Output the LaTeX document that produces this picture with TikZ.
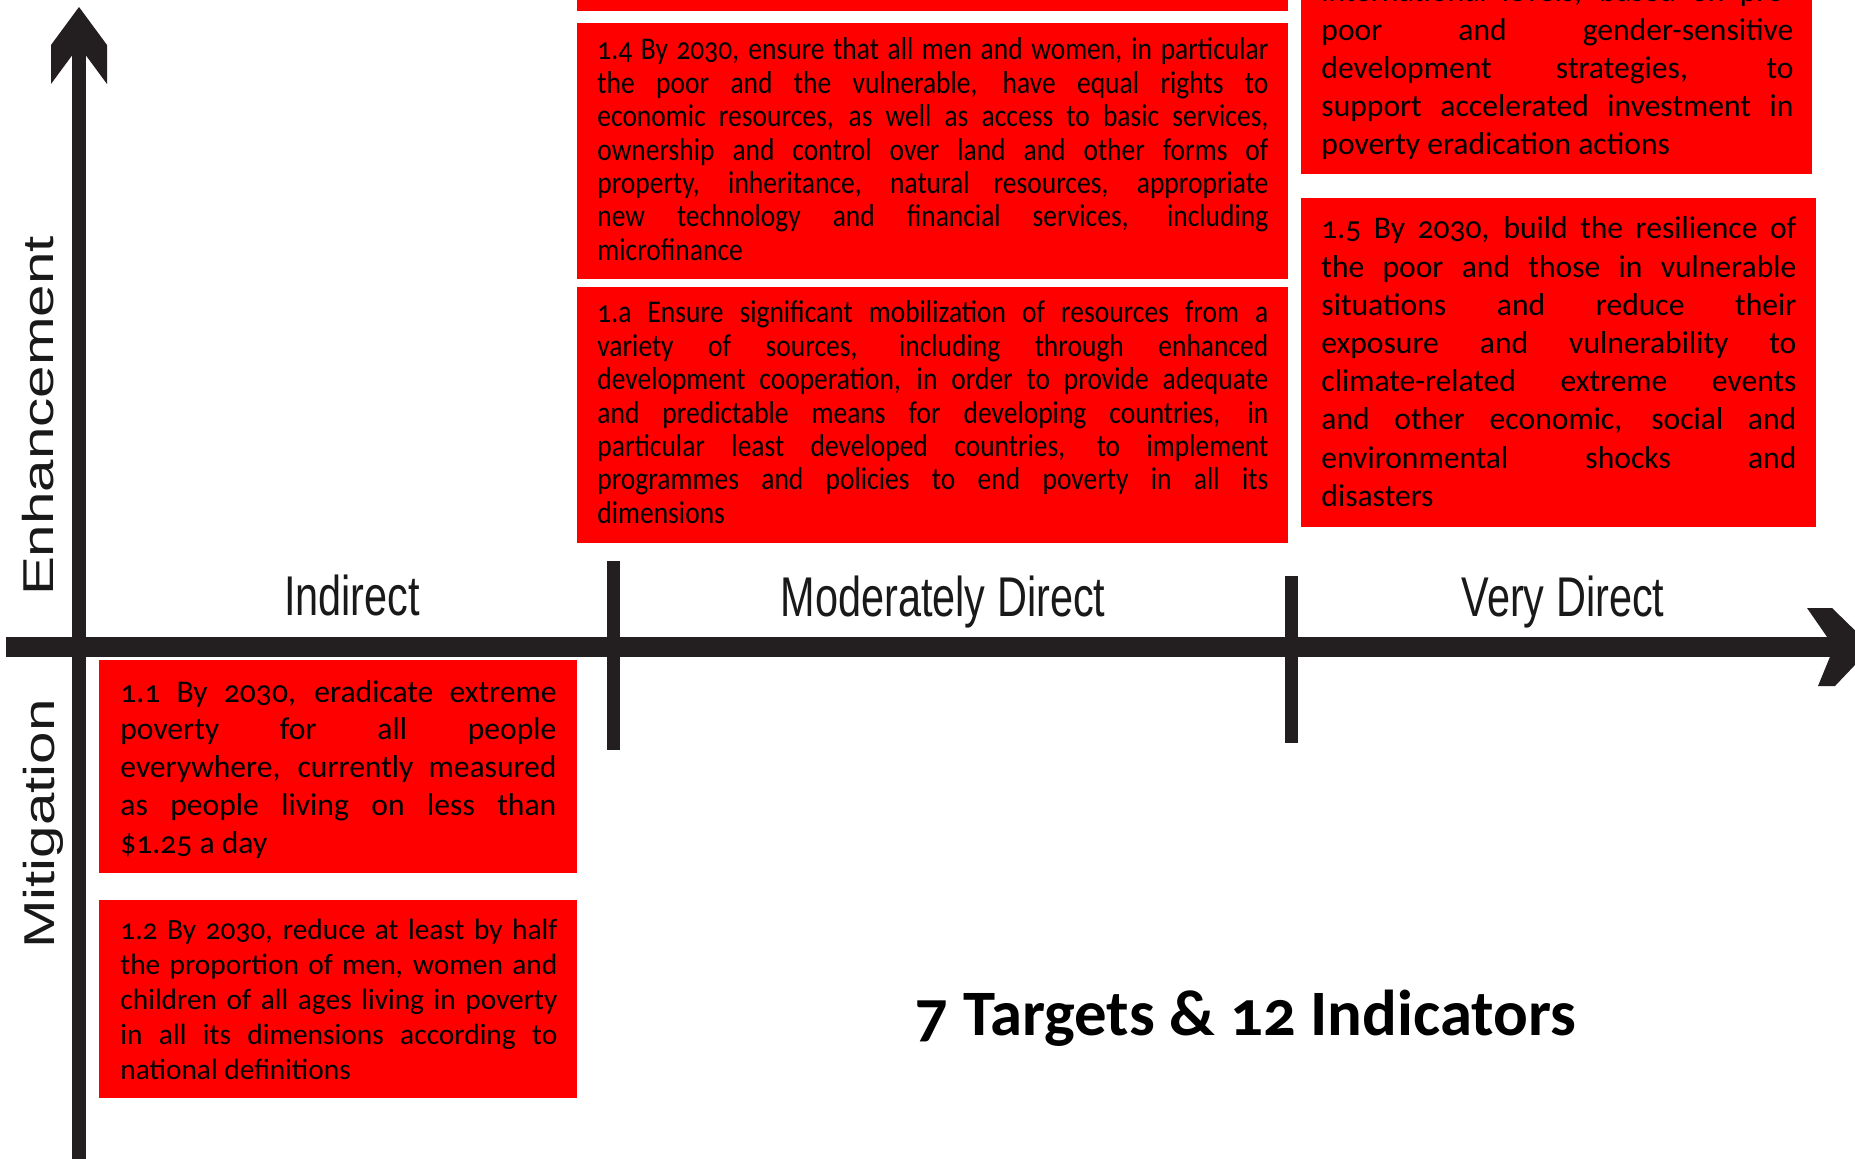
\documentclass[tikz,border=0pt]{standalone}
\usepackage{fontspec}
\newfontfamily\boxfont[Numbers=OldStyle]{Carlito}
\newfontfamily\boxnarrow[Numbers=OldStyle,FakeStretch=0.87]{Carlito}
\newfontfamily\axfont[FakeStretch=0.74]{Liberation Sans}
\newfontfamily\sidefont[FakeStretch=1.35]{Liberation Sans}
\definecolor{sdgred}{HTML}{FF0000}
\definecolor{axisblack}{HTML}{231F20}
% a block of text lines of a given width; full lines are justified
\newcommand{\textblock}[2]{\vtop{\hsize=#1\relax\parindent=0pt #2}}
\newcommand{\jl}[1]{\hbox to\hsize{#1}}
\newcommand{\lastl}[1]{\hbox{#1}}
\begin{document}
\begin{tikzpicture}[x=0.5pt,y=-0.5pt,
  redbox/.style={fill=sdgred},
  boxtext/.style={anchor=base west, inner sep=0pt, text=black},
  widebody/.style={font=\boxfont\fontsize{15.8}{19.1}\selectfont},
  narrowbody/.style={font=\boxnarrow\fontsize{15.8}{16.67}\selectfont},
  axislabel/.style={anchor=base, inner sep=0pt, text=black!90, font=\axfont\fontsize{28}{30}\selectfont},
  sidelabel/.style={anchor=base, inner sep=0pt, rotate=90, text=black!90, font=\sidefont\fontsize{21.6}{24}\selectfont},
  axisline/.style={draw=axisblack},
  axishead/.style={fill=axisblack}]

\useasboundingbox (0,0) rectangle (1855,1159);
\fill[white] (0,0) rectangle (1855,1159);
\clip (0,0) rectangle (1855,1159);

% ---------- axes ----------
\coordinate (ybot) at (79,1170);
\coordinate (ytop) at (79,40);
\coordinate (xleft) at (6,647);
\coordinate (xright) at (1838,647);
\draw[axisline, line width=7pt] (ybot) -- (ytop);
\fill[axishead] (79,7) -- (107,45) -- (107,84) -- (79,46) -- (51,84) -- (51,45) -- cycle;
\draw[axisline, line width=10pt] (xleft) -- (xright);
\fill[axishead] (1807,608) -- (1832,608) -- (1872,647) -- (1835,686) -- (1818,686) -- (1834,647) -- cycle;

% tick marks between the three columns
\coordinate (tickAtop) at (613.5,561);
\coordinate (tickAbot) at (613.5,750);
\coordinate (tickBtop) at (1291.5,576);
\coordinate (tickBbot) at (1291.5,743);
\draw[axisline, line width=6.5pt] (tickAtop) -- (tickAbot);
\draw[axisline, line width=6.5pt] (tickBtop) -- (tickBbot);

% ---------- axis labels ----------
\node[axislabel] (lind) at (352,615) {Indirect};
\node[axislabel] (lmod) at (943,616) {Moderately Direct};
\node[axislabel] (lvery) at (1563,616) {Very Direct};
\node[sidelabel] (lenh) at (53,416) {Enhancement};
\node[sidelabel] (lmit) at (54,824) {Mitigation};

% ---------- target boxes ----------
\fill[redbox] (577,-5) rectangle (1288,11);
\fill[redbox] (577,23) rectangle (1288,279);
\fill[redbox] (577,287) rectangle (1288,543);
\fill[redbox] (1301,-5) rectangle (1812,174);
\fill[redbox] (1301,198) rectangle (1816,527);
\fill[redbox] (99,660) rectangle (577,873);
\fill[redbox] (99,900) rectangle (577,1098);

\node[boxtext, narrowbody] (t14) at (597,60) {\textblock{335.5pt}{%
\jl{1.4 By 2030, ensure that all men and women, in particular}
\jl{the poor and the vulnerable, have equal rights to}
\jl{economic resources, as well as access to basic services,}
\jl{ownership and control over land and other forms of}
\jl{property, inheritance, natural resources, appropriate}
\jl{new technology and financial services, including}
\lastl{microfinance}}};

\node[boxtext, narrowbody] (t1a) at (597,323) {\textblock{335.5pt}{%
\jl{1.a Ensure significant mobilization of resources from a}
\jl{variety of sources, including through enhanced}
\jl{development cooperation, in order to provide adequate}
\jl{and predictable means for developing countries, in}
\jl{particular least developed countries, to implement}
\jl{programmes and policies to end poverty in all its}
\lastl{dimensions}}};

\node[boxtext, widebody] (t1b) at (1321,2) {\textblock{236pt}{%
\jl{international levels, based on pro-}
\jl{poor and gender-sensitive}
\jl{development strategies, to}
\jl{support accelerated investment in}
\lastl{poverty eradication actions}}};

\node[boxtext, widebody] (t15) at (1321,239) {\textblock{237.5pt}{%
\jl{1.5 By 2030, build the resilience of}
\jl{the poor and those in vulnerable}
\jl{situations and reduce their}
\jl{exposure and vulnerability to}
\jl{climate-related extreme events}
\jl{and other economic, social and}
\jl{environmental shocks and}
\lastl{disasters}}};

\node[boxtext, font=\boxfont\fontsize{15.8}{18.9}\selectfont] (t11) at (120,702) {\textblock{218pt}{%
\jl{1.1 By 2030, eradicate extreme}
\jl{poverty for all people}
\jl{everywhere, currently measured}
\jl{as people living on less than}
\lastl{\$1.25 a day}}};

\node[boxtext, font=\boxfont\fontsize{14.7}{17.6}\selectfont] (t12) at (120,939) {\textblock{218.5pt}{%
\jl{1.2 By 2030, reduce at least by half}
\jl{the proportion of men, women and}
\jl{children of all ages living in poverty}
\jl{in all its dimensions according to}
\lastl{national definitions}}};

% ---------- summary ----------
\node[anchor=base, inner sep=0pt, font=\boxfont\bfseries\fontsize{32.4}{36}\selectfont] (summary) at (1246,1035) {7 Targets \& 12 Indicators};

\end{tikzpicture}
\end{document}
